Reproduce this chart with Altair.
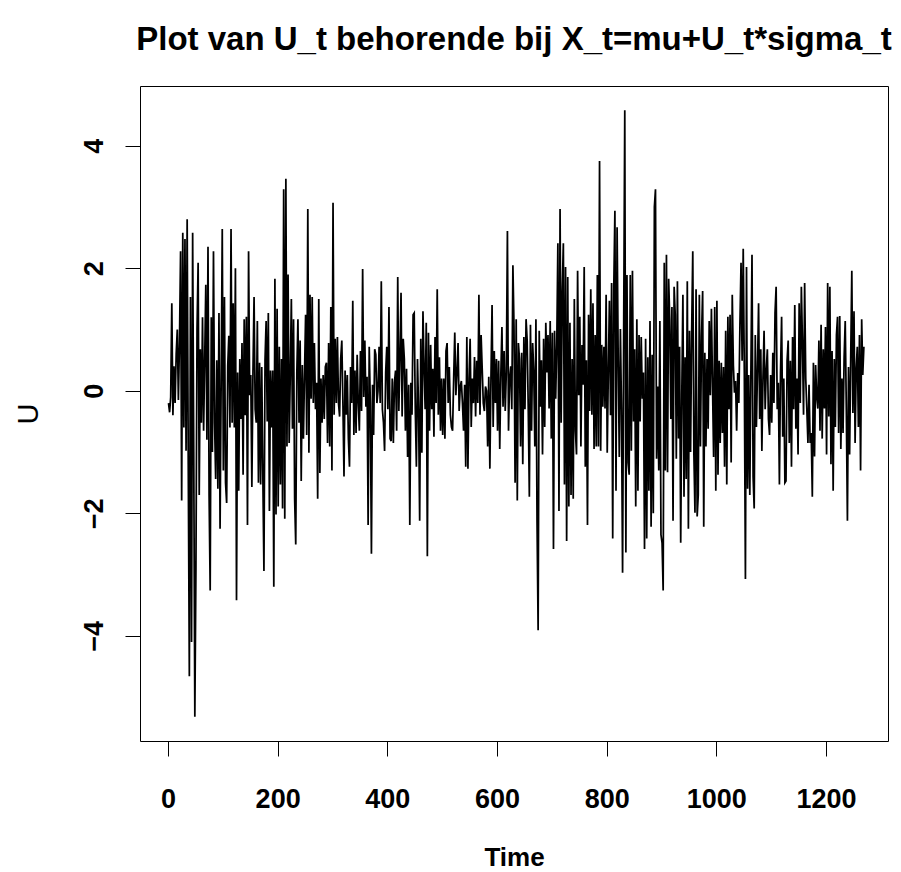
import altair as alt
import pandas as pd

# U_t values, one value every 2 time steps (t = 1, 3, 5, ...)
block_a = [-0.2, -0.35, -0.1, 1.43, -0.4, 0.4, -0.2, 0.6, 1.0, -0.15,
           0.8, 2.28, -1.79, 2.58, -0.6, 2.48, -0.98, 2.8, -1.2, -4.66,
           1.53, -4.1, 2.58, -1.0, -5.32, -2.9, 1.0, 2.09, -1.7, 0.68,
           -0.52, 1.2, -0.65, 0.5, 1.73, -0.8, 2.35, -1.7, -3.26, 1.2,
           -1.0, 2.28, -0.52, -1.44, 0.5, -1.6, 1.27, -2.25, 0.13, 2.64,
           -1.3, 1.53, -1.5, -1.83, 0.4, 0.9, -0.6, 2.64, -0.52, 1.43,
           -0.6, 2.0, -3.42, 0.3, -1.63, 0.52, -0.46, 0.78, -1.37, 1.17,
           -0.4, 1.21, -2.19, 2.28, -0.07, 0.26, -1.57, 0.3, 1.53, -0.3,
           -0.52, 1.14, -1.5, 0.46, -1.53, 0.39, -1.37, -2.94, 0.5, 1.14,
           -0.5, 1.27, -1.96, 0.33, -0.6, 0.33, -3.2, 1.83, -2.02, 1.34,
           -1.89, 0.72, -1.53, 0.52, -1.92, 3.29, -2.09, 3.46, -0.91, 1.9,
           -0.85, 0.26, 1.5, -0.62, 1.17, -1.76, -2.51, 0.3, 1.17, -0.52,
           0.82, -1.47, 0.42, -0.78, 0.26, 1.24, -0.72]

block_b = [2.97, -1.01, 1.57, -0.13, 1.53, -0.2, 0.78, -0.3, 0.13, -1.76,
           1.5, -1.34, 0.2, -0.52, 0.26, -0.46, 0.39, 0.46, -0.85, 0.78,
           -0.91, 1.37, -1.3, 3.07, -0.39, 0.85, -0.2, 0.88, -0.2, -0.42,
           0.52, 0.82, -0.2, -1.4, 0.33, -0.39, 0.26, -0.78, -1.24, 0.39,
           -0.2, 1.47, -0.72, 0.33, -0.69, 0.59, -0.2, -0.65, 0.65, -0.33,
           1.99, -0.1, 0.82, -0.26, 0.23, -2.19, 0.72, -0.2, -2.66, 0.1,
           -0.72, 0.68, 0.59, -0.2, 0.0, 0.72, -0.2, 1.79, -0.3, -0.52,
           -0.98, 0.3, 0.72, -0.3, 1.37, -0.78, -0.82, 0.2, -0.85, 0.13,
           0.33, -0.65, 1.86, -0.33, 0.55, 1.6, -0.42, 0.85, 0.52, -0.65,
           0.36, -1.08, 0.1, -2.19, 0.13, -0.39, 1.24, 1.27, -0.3, -1.24,
           0.52, -0.3, -2.12, 0.85, -1.01, 1.3, 0.39, -0.3, 1.11, -2.7,
           0.95, -0.65, 0.75, -0.3, 0.36, -0.75, 0.88, -0.2, 1.66, -0.39,
           0.55, -0.65, 0.2, -0.72, 0.2, -0.78, 0.65]

block_c = [0.78, -0.2, 0.39, -0.39, -0.59, -0.65, 0.2, 0.95, -0.07, 0.3,
           0.78, -0.33, 0.07, 0.16, -0.2, -0.65, 0.1, -1.24, 0.88, -1.27,
           0.2, 0.85, -0.59, 0.2, -0.2, 0.55, -0.42, 0.49, -0.2, 1.57,
           -0.39, 0.91, 0.36, -0.2, -0.33, 0.07, 0.0, -0.91, 0.23, -1.27,
           0.2, 1.4, -0.59, 0.65, -0.2, 0.52, -0.65, 0.49, -0.95, 0.26,
           1.04, -0.26, 0.65, -0.33, 0.3, 2.61, -0.65, 0.2, 0.4, -0.3,
           2.05, 1.04, -1.5, 1.17, -1.79, 0.78, 0.52, -0.91, 0.62, -1.2,
           0.88, -0.3, 1.17, 0.82, -0.3, -1.73, 1.08, -0.65, 0.78, 0.33,
           -0.91, 1.17, -2.12, -3.91, 0.98, -0.26, 0.5, -1.04, 0.85, -0.59,
           1.11, 0.3, 0.91, -0.29, 1.14, -0.78, 0.95, -2.58, 0.98, -0.13,
           0.75, 2.41, -1.96, 2.97, -0.52, 1.63, 2.41, -1.53, 2.02, -2.45,
           1.86, -1.89, 1.11, -1.70, 0.52, -1.76, 1.5, -0.65, -1.04, 1.96,
           -0.07, 1.21, -0.91, 0.75, 0.1, 2.02, -1.24]

block_d = [0.5, -2.19, 1.24, -0.33, 1.66, -0.39, 1.43, -0.95, 0.91, -0.91,
           1.89, -0.91, 3.75, -0.98, 0.75, -0.26, 0.72, -0.29, 1.57, -1.01,
           0.3, 1.47, -0.4, 1.76, -2.41, 1.70, 2.94, -1.63, 2.67, 0.52,
           -1.08, 1.01, -0.3, -2.97, 0.98, 4.58, -2.64, 1.89, -1.17, -1.37,
           1.89, -0.98, 1.96, -0.5, 0.68, -1.89, 1.17, -1.63, 0.91, -0.5,
           0.88, -0.13, 0.3, -2.58, 0.85, -2.41, 0.55, -1.63, 1.14, -2.22,
           0.59, -2.0, 3.0, 3.29, -1.11, 0.07, -1.30, 1.14, -2.35, -2.48,
           -3.26, 2.09, -1.30, 2.22, -1.33, 1.83, 1.17, -0.46, 1.37, -2.12,
           1.70, 1.24, -1.11, 1.79, -0.78, 0.72, -2.48, -0.07, 1.57, -1.73,
           0.55, -1.44, 1.79, -2.25, 0.98, -1.0, 0.98, 2.28, -1.01, -1.99,
           1.66, -2.05, -1.70, 1.57, -0.91, 0.88, 1.63, -2.22, 0.62, -0.91,
           0.52, -0.62, 1.14, -0.07, 1.34, 0.1, -1.08, 1.37, -1.63, 1.47,
           -1.37, 0.49, -0.85, 0.46, -0.69, 0.39, -1.24]

block_e = [0.98, -1.53, 1.21, -0.3, 1.24, -1.17, 1.57, 0.42, -0.03, 0.16,
           -0.65, 0.29, -0.2, 1.08, 2.09, 0.49, 2.32, 0.3, -3.07, 2.02,
           -1.6, 0.26, -1.70, 0.3, 2.22, -1.40, -1.92, 0.91, -0.59, 0.33,
           1.43, -0.46, 0.68, -0.98, 0.2, 0.98, -0.3, 0.33, 0.68, -0.46,
           -0.72, 0.26, -0.52, 0.62, -0.2, 1.27, 1.70, -0.3, 0.13, -1.53,
           0.3, 1.21, -0.75, 0.2, -1.50, -1.47, 0.49, 0.82, -0.85, 0.49,
           -1.24, 0.88, -0.3, 1.40, -0.62, 0.2, -1.04, 1.43, -0.2, 1.70,
           0.78, -0.39, 1.76, 0.2, -0.3, -0.85, 0.1, -0.85, -0.69, -1.73,
           0.46, -1.07, 0.42, -0.1, -0.29, 0.82, -0.65, 1.08, -0.78, 0.68,
           -0.29, 1.04, -1.04, 1.76, -0.42, 1.70, -1.20, 0.65, -1.63, 0.52,
           -0.59, 0.91, 1.21, -0.69, 1.22, -0.95, 0.2, -0.69, 0.55, 1.14,
           -0.3, -2.12, 0.39, -1.04, 0.52, 1.96, -0.36, 1.30, -0.85, 0.36,
           0.72, -0.59, 0.91, -1.30, 1.17, 0.26, 0.72]

x_ticks = [0, 200, 400, 600, 800, 1000, 1200]
y_ticks = [-4, -2, 0, 2, 4]
title_text = "Plot van U_t behorende bij X_t=mu+U_t*sigma_t"

values = block_a + block_b + block_c + block_d + block_e
time = [1 + 2 * i for i in range(len(values))]
df = pd.DataFrame({"Time": time, "U": values})

FONT = "Liberation Sans"

chart = (
    alt.Chart(df)
    .mark_line(color="black", strokeWidth=1.75, strokeJoin="miter")
    .encode(
        x=alt.X(
            "Time:Q",
            scale=alt.Scale(domain=[-51, 1313], nice=False, zero=False),
            axis=alt.Axis(
                values=x_ticks, format="d", title="Time", grid=False, domain=False,
                tickColor="black", tickSize=15, tickWidth=1,
                labelFont=FONT, labelFontSize=27, labelFontWeight="bold",
                labelColor="black",
                labelBaseline="alphabetic", labelPadding=51, labelFlush=False,
                titleFont=FONT, titleFontSize=26, titleFontWeight="bold",
                titleColor="black", titleBaseline="alphabetic",
                titleX=374, titleY=124, titleAlign="center",
            ),
        ),
        y=alt.Y(
            "U:Q",
            scale=alt.Scale(domain=[-5.716, 4.976], nice=False, zero=False),
            axis=alt.Axis(
                values=y_ticks, format="d", title="U", grid=False, domain=False,
                tickColor="black", tickSize=15, tickWidth=1,
                labelFont=FONT, labelFontSize=27, labelFontWeight="bold",
                labelColor="black",
                labelAngle=270, labelAlign="center", labelBaseline="alphabetic",
                labelPadding=23, labelFlush=False,
                titleFont=FONT, titleFontSize=29, titleFontWeight="normal",
                titleColor="black", titleAngle=270, titleBaseline="alphabetic",
                titleAlign="center", titleX=-103, titleY=327.5,
            ),
        ),
    )
    .properties(
        width=748,
        height=655,
        background="white",
        title=alt.TitleParams(
            text=title_text, font=FONT, fontSize=33, fontWeight="bold",
            color="black", anchor="middle", baseline="alphabetic", offset=3,
        ),
        autosize=alt.AutoSizeParams(type="none"),
        padding={"left": 140, "top": 86, "right": 13, "bottom": 131},
    )
    .configure_view(stroke="#000000", strokeWidth=1)
)

chart.save("out.html", embed_options={"renderer": "svg", "actions": False})
